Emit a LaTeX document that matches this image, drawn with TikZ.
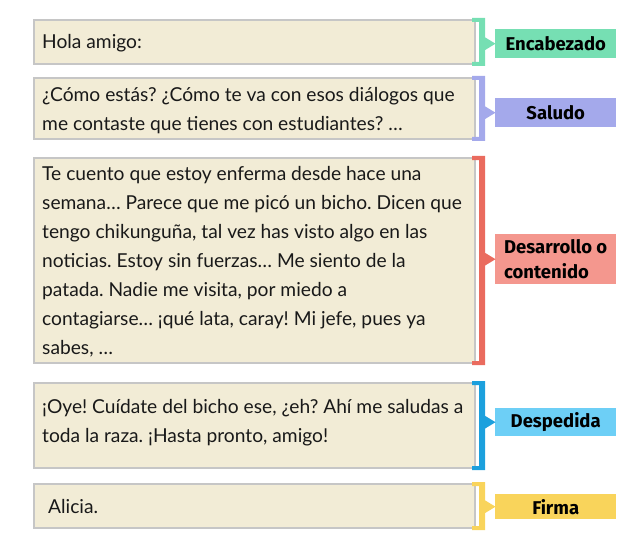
\documentclass[tikz,border=0pt]{standalone}
\usepackage{fontspec}
\setmainfont{Lato}
\newfontfamily\labelfont{Fira Sans}
\usetikzlibrary{calc}
\frenchspacing
\definecolor{boxfill}{HTML}{F2ECD6}
\definecolor{boxline}{HTML}{C6C6C6}
\definecolor{cEnc}{HTML}{76DFB3}
\definecolor{cSal}{HTML}{A4A9EB}
\definecolor{cDesB}{HTML}{EA6B5E}
\definecolor{cDesL}{HTML}{F4978E}
\definecolor{cDspB}{HTML}{1CA0DD}
\definecolor{cDspL}{HTML}{6DCFF6}
\definecolor{cFir}{HTML}{F9D45B}
\tikzset{
  letterbox/.style={draw=boxline, line width=2pt, fill=boxfill, anchor=north west, inner sep=0pt, minimum width=441pt},
  lettertext/.style={anchor=base west, inner sep=0pt, align=left, font=\frenchspacing\fontsize{19.2}{29}\selectfont, text=black!90},
  tag/.style={anchor=north west, inner sep=0pt, minimum width=121pt, align=left, font=\labelfont\bfseries\fontsize{18.5}{25}\selectfont},
}
\newcommand{\bracketmark}[3]{% box node, colour, tag node
  \coordinate (#1-bt) at ($(#1.north east)+(-4,-1)$);
  \coordinate (#1-bb) at ($(#1.south east)+(-4,1)$);
  \coordinate (#1-tip) at ($(#3.west)+(0.5,0)$);
  \coordinate (#1-tb) at ($(#1-tip)+(-11.5,0)$);
  \fill[#2] (#1-bt) -- ++(13,0) |- (#1-bb) -- ++(0,-4) -- ++(7,0) |- ($(#1-bt)+(0,4)$) -- cycle;
  \fill[#2] ($(#1-tb)+(0,-7)$) -- (#1-tip) -- ($(#1-tb)+(0,7)$) -- cycle;
}
\begin{document}
\begin{tikzpicture}[x=1pt,y=-1pt]
\useasboundingbox (0,0) rectangle (644,548);
% boxes
\node[letterbox, minimum height=44pt] (b1) at (33,19) {};
\node[letterbox, minimum height=61pt] (b2) at (33,77) {};
\node[letterbox, minimum height=205pt] (b3) at (33,157) {};
\node[letterbox, minimum height=85pt] (b4) at (33,382) {};
\node[letterbox, minimum height=44pt] (b5) at (33,483) {};
% texts (anchor = baseline of last line)
\node[lettertext] (t1) at (42,49) {Hola amigo:};
\node[lettertext] (t2) at (42,131) {¿Cómo estás? ¿Cómo te va con esos diálogos que\\me contaste que tienes con estudiantes? \dots};
\node[lettertext] (t3) at (42,354) {Te cuento que estoy enferma desde hace una\\semana\dots\ Parece que me picó un bicho. Dicen que\\tengo chikunguña, tal vez has visto algo en las\\noticias. Estoy sin fuerzas\dots\ Me siento de la\\patada. Nadie me visita, por miedo a\\contagiarse\dots\ ¡qué lata, caray! Mi jefe, pues ya\\sabes, \dots};
\node[lettertext] (t4) at (42,442) {¡Oye! Cuídate del bicho ese, ¿eh? Ahí me saludas a\\toda la raza. ¡Hasta pronto, amigo!};
\node[lettertext] (t5) at (48,513) {Alicia.};
% tags
\node[tag, fill=cEnc, minimum height=29pt, align=center] (l1) at (495,29) {Encabezado};
\node[tag, fill=cSal, minimum height=29pt, align=center] (l2) at (495,98) {Saludo};
\node[tag, fill=cDesL, minimum height=50pt, inner xsep=8pt] (l3) at (495,234) {Desarrollo o\\contenido};
\node[tag, fill=cDspL, minimum height=28pt, align=center] (l4) at (495,408) {Despedida};
\node[tag, fill=cFir, minimum height=25pt, align=center] (l5) at (495,494) {Firma};
% brackets
\bracketmark{b1}{cEnc}{l1}
\bracketmark{b2}{cSal}{l2}
\bracketmark{b3}{cDesB}{l3}
\bracketmark{b4}{cDspB}{l4}
\bracketmark{b5}{cFir}{l5}
\end{tikzpicture}
\end{document}
